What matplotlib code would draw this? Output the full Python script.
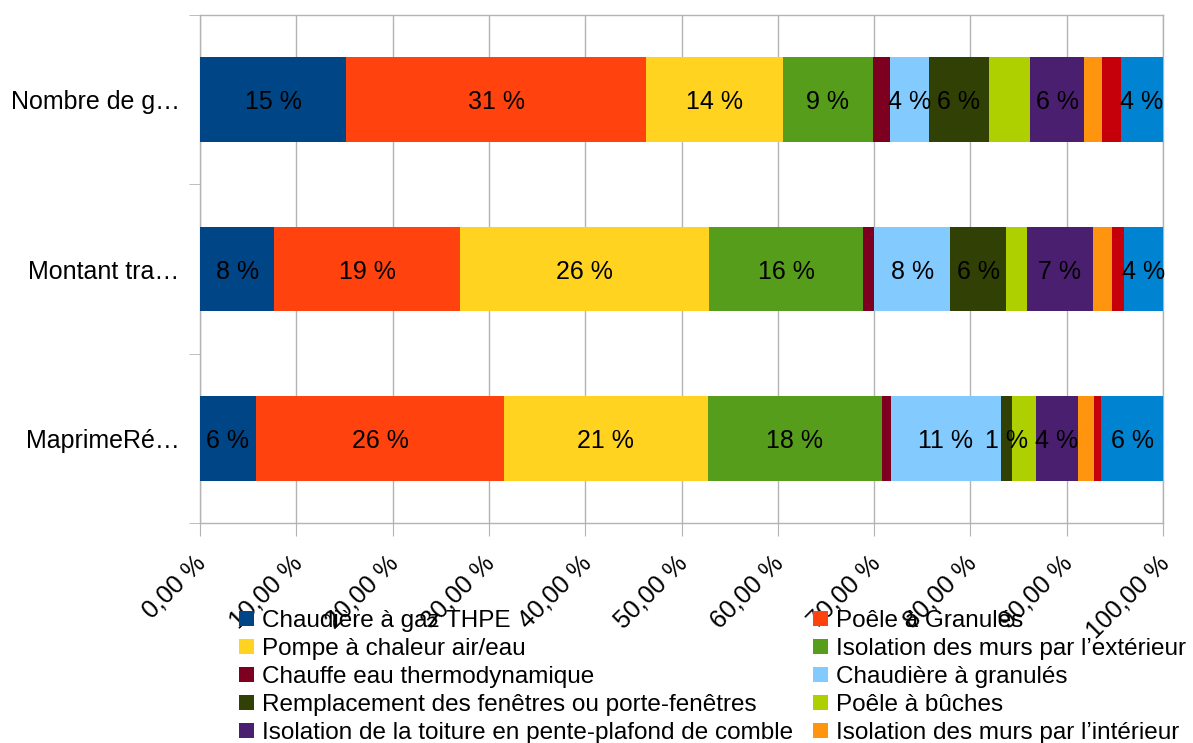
import matplotlib
matplotlib.use("Agg")
import matplotlib.pyplot as plt
import matplotlib.transforms as mtransforms
from matplotlib.patches import Patch
import numpy as np

plt.rcParams['font.family'] = ['Liberation Sans', 'DejaVu Sans']

categories = ["Nombre de g…", "Montant tra…", "MaprimeRé…"]

series_names = [
    "Chaudière à gaz THPE",
    "Poêle à Granulés",
    "Pompe à chaleur air/eau",
    "Isolation des murs par l’extérieur",
    "Chauffe eau thermodynamique",
    "Chaudière à granulés",
    "Remplacement des fenêtres ou porte-fenêtres",
    "Poêle à bûches",
    "Isolation de la toiture en pente-plafond de comble",
    "Isolation des murs par l’intérieur",
    "Série 11",
    "Série 12",
]

# values per series, for [Nombre de g…, Montant tra…, MaprimeRé…]
chaudiere_gaz = [15.2, 7.7, 5.8]
poele_granules = [31.1, 19.3, 25.7]
pac_air_eau = [14.2, 25.9, 21.1]
isolation_ext = [9.4, 15.9, 18.1]
chauffe_eau = [1.7, 1.2, 0.9]
chaudiere_granules = [4.1, 7.9, 11.4]
fenetres = [6.2, 5.8, 1.2]
poele_buches = [4.3, 2.2, 2.4]
isolation_toiture = [5.6, 6.8, 4.4]
isolation_int = [1.9, 2.0, 1.6]
serie_11 = [1.9, 1.2, 0.8]
serie_12 = [4.4, 4.1, 6.4]

all_series = [chaudiere_gaz, poele_granules, pac_air_eau, isolation_ext, chauffe_eau,
              chaudiere_granules, fenetres, poele_buches, isolation_toiture,
              isolation_int, serie_11, serie_12]

# which series carry data labels
show_labels = [True, True, True, True, False, True, True, False, True, False, False, True]

colors = ["#004586", "#ff420e", "#ffd320", "#579d1c", "#7e0021", "#83caff",
          "#314004", "#aecf00", "#4b1f6f", "#ff950e", "#c5000b", "#0084d1"]

xtick_vals = [0, 10, 20, 30, 40, 50, 60, 70, 80, 90, 100]
xtick_labels = ["0,00 %", "10,00 %", "20,00 %", "30,00 %", "40,00 %", "50,00 %",
                "60,00 %", "70,00 %", "80,00 %", "90,00 %", "100,00 %"]

data = np.array(all_series, dtype=float)
pct = data / data.sum(axis=0) * 100.0

W, H = 1193, 743
fig = plt.figure(figsize=(W / 100, H / 100), dpi=100)
ax = fig.add_axes([200 / W, 1 - 523 / H, 963 / W, 508 / H])

grid_c = "#b3b3b3"
FS = 18

y = np.arange(len(categories))
left = np.zeros(len(categories))
for i, (name, vals) in enumerate(zip(series_names, pct)):
    ax.barh(y, vals, left=left, height=0.5, color=colors[i], label=name, zorder=3)
    if show_labels[i]:
        for yi, (l, v) in enumerate(zip(left, vals)):
            ax.text(l + v / 2, yi, f"{v:.0f} %", ha="center", va="center_baseline",
                    fontsize=FS, color="black", zorder=4)
    left = left + vals

ax.set_xlim(0, 100)
ax.set_ylim(2.5, -0.5)

ax.set_xticks(xtick_vals)
ax.set_xticklabels(xtick_labels, rotation=45, ha="right", rotation_mode="anchor", fontsize=FS)
ax.tick_params(axis="x", length=9.4, color=grid_c, pad=6, direction="out")
offset = mtransforms.ScaledTranslation(-0.065, -0.065, fig.dpi_scale_trans)
for lab in ax.get_xticklabels():
    lab.set_transform(lab.get_transform() + offset)

ax.set_yticks(y)
ax.set_yticklabels(categories, fontsize=FS)
ax.tick_params(axis="y", which="major", length=0, pad=14.5)
ax.set_yticks([-0.5, 0.5, 1.5, 2.5], minor=True)
ax.tick_params(axis="y", which="minor", length=8, color=grid_c, direction="out")

ax.grid(axis="x", color=grid_c, linewidth=1, zorder=0)
for s in ax.spines.values():
    s.set_color(grid_c)
    s.set_linewidth(1)

order = [0, 2, 4, 6, 8, 1, 3, 5, 7, 9]
handles = [Patch(facecolor=colors[k], edgecolor="none") for k in order]
labels = [series_names[k] for k in order]
LFS = 17.5
fig.legend(handles, labels, loc="upper left", bbox_to_anchor=(239 / W, 1 - 610 / H),
           bbox_transform=fig.transFigure, ncol=2, frameon=False, fontsize=LFS,
           borderpad=0, borderaxespad=0, labelspacing=0.245, handlelength=0.62,
           handleheight=0.58, handletextpad=0.33, columnspacing=0.8)

fig.savefig("out.png", dpi=100)
